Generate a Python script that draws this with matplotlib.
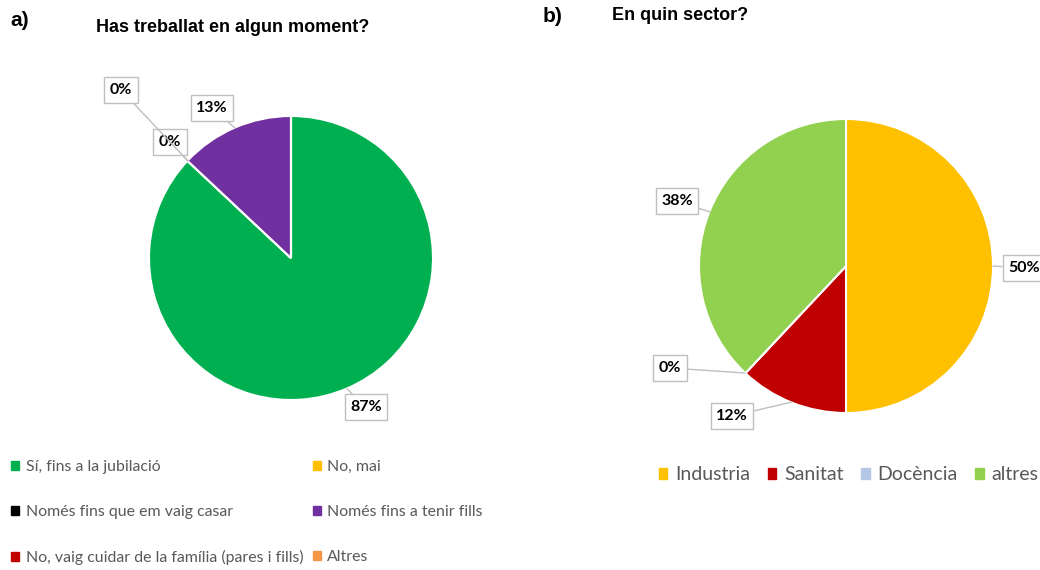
import matplotlib.pyplot as plt
from matplotlib.patches import Patch

plt.rcParams['font.family'] = ['Lato', 'DejaVu Sans']

W, H = 1040, 570

# Data
worked_labels = ['Sí, fins a la jubilació', 'No, mai', 'Només fins que em vaig casar',
                 'Només fins a tenir fills', 'No, vaig cuidar de la família (pares i fills)', 'Altres']
worked_values = [87, 0, 0, 13, 0, 0]
worked_colors = ['#00B050', '#FFC000', '#000000', '#7030A0', '#C00000', '#F79646']

sector_labels = ['Industria', 'Sanitat', 'Docència', 'altres']
sector_values = [50, 12, 0, 38]
sector_colors = ['#FFC000', '#C00000', '#B4C7E7', '#92D050']

fig = plt.figure(figsize=(W / 100, H / 100), dpi=100)


def pie_axes(cx, cy, r):
    return fig.add_axes([(cx - r) / W, 1 - (cy + r) / H, 2 * r / W, 2 * r / H])


def fix_limits(ax):
    ax.set_xlim(-1, 1)
    ax.set_ylim(-1, 1)
    ax.axis('off')


def to_data(px, py, cx, cy, r):
    return (px - cx) / r, -(py - cy) / r


box = dict(boxstyle='square,pad=0.35', fc='white', ec='#BFBFBF', lw=1)
arrow = dict(arrowstyle='-', color='#BFBFBF', lw=1, shrinkA=0, shrinkB=0)


def add_label(ax, text, tip, boxpos, cx, cy, r):
    ax.annotate(text, xy=to_data(*tip, cx, cy, r), xytext=to_data(*boxpos, cx, cy, r),
                ha='center', va='center', fontsize=11.5, fontweight='bold',
                bbox=box, arrowprops=arrow, annotation_clip=False)


# Pie a
cxa, cya, ra = 291, 258, 142
ax1 = pie_axes(cxa, cya, ra)
wedges_a, _ = ax1.pie(worked_values, colors=worked_colors, startangle=90, counterclock=False,
                      radius=1, wedgeprops=dict(edgecolor='white', linewidth=1.5))
fix_limits(ax1)
add_label(ax1, '13%', (235, 128), (212, 108), cxa, cya, ra)
add_label(ax1, '0%', (188, 161), (170, 142), cxa, cya, ra)
add_label(ax1, '0%', (188, 161), (121, 90), cxa, cya, ra)
add_label(ax1, '87%', (347, 389), (366, 407), cxa, cya, ra)

# Pie b
cxb, cyb, rb = 846, 266, 147
ax2 = pie_axes(cxb, cyb, rb)
wedges_b, _ = ax2.pie(sector_values, colors=sector_colors, startangle=90, counterclock=False,
                      radius=1, wedgeprops=dict(edgecolor='white', linewidth=1.5))
fix_limits(ax2)
add_label(ax2, '50%', (993, 266), (1024, 268), cxb, cyb, rb)
add_label(ax2, '38%', (710, 212), (677, 201), cxb, cyb, rb)
add_label(ax2, '0%', (745, 373), (670, 368), cxb, cyb, rb)
add_label(ax2, '12%', (792, 402), (732, 416), cxb, cyb, rb)

# Titles
fig.text(10 / W, 1 - 20 / H, 'a)', fontsize=15, fontweight='bold', va='center', family='Liberation Sans')
fig.text(233 / W, 1 - 27 / H, 'Has treballat en algun moment?', fontsize=13, fontweight='bold',
         ha='center', va='center', family='Liberation Sans')
fig.text(543 / W, 1 - 17 / H, 'b)', fontsize=15, fontweight='bold', va='center', family='Liberation Sans')
fig.text(612 / W, 1 - 16 / H, 'En quin sector?', fontsize=13, fontweight='bold',
         va='center', family='Liberation Sans')

# Legend a (row-wise order in two columns)
order = [0, 2, 4, 1, 3, 5]
handles_a = [Patch(color=worked_colors[i], label=worked_labels[i]) for i in order]
fig.legend(handles=handles_a, loc='upper left', bbox_to_anchor=(-3 / W, 1 - 446 / H), ncol=2,
           frameon=False, fontsize=11.4, labelcolor='#595959', handlelength=0.5, handleheight=0.5,
           handletextpad=0.4, labelspacing=1.95, columnspacing=0.6)

# Legend b
handles_b = [Patch(color=c, label=l) for c, l in zip(sector_colors, sector_labels)]
fig.legend(handles=handles_b, loc='upper left', bbox_to_anchor=(641 / W, 1 - 449 / H), ncol=4,
           frameon=False, fontsize=14, labelcolor='#595959', handlelength=0.45, handleheight=0.45,
           handletextpad=0.4, columnspacing=0.9)

fig.savefig('out.png', dpi=100)
